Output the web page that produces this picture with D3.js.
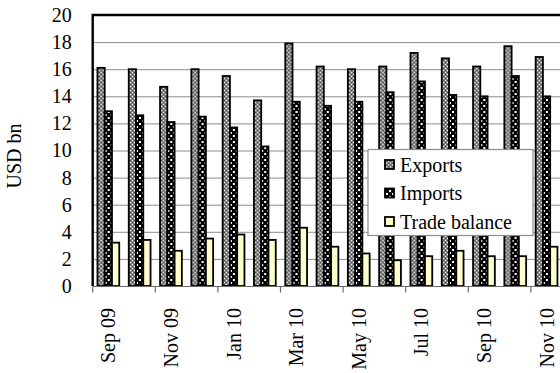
<!DOCTYPE html>
<html>
<head>
<meta charset="utf-8">
<script src="https://cdn.jsdelivr.net/npm/d3@7/dist/d3.min.js"></script>
<style>
  html, body { margin: 0; padding: 0; background: #fff; }
  svg { display: block; }
  text { font-family: "Liberation Serif", "Times New Roman", serif; fill: #000; }
</style>
</head>
<body>
<script>
const categories = ["Sep 09","Oct 09","Nov 09","Dec 09","Jan 10","Feb 10","Mar 10","Apr 10","May 10","Jun 10","Jul 10","Aug 10","Sep 10","Oct 10","Nov 10"];
const exportsData = [16.1,16.0,14.7,16.0,15.5,13.7,17.9,16.2,16.0,16.2,17.2,16.8,16.2,17.7,16.9];
const importsData = [12.9,12.6,12.1,12.5,11.7,10.3,13.6,13.3,13.6,14.3,15.1,14.1,14.0,15.5,14.0];
const tradeBalanceData = [3.2,3.4,2.6,3.5,3.8,3.4,4.3,2.9,2.4,1.9,2.2,2.6,2.2,2.2,2.9];
const seriesNames = ["Exports","Imports","Trade balance"];
const yTicks = [0,2,4,6,8,10,12,14,16,18,20];
const xTickLabels = ["Sep 09","Nov 09","Jan 10","Mar 10","May 10","Jul 10","Sep 10","Nov 10"];
const yTitle = "USD bn";

const W = 560, H = 373;
const pLeft = 92.7, pRight = 562.2, pTop = 15, pBottom = 286;

const svg = d3.select("body").append("svg").attr("width", W).attr("height", H);
const defs = svg.append("defs");

// patterns
const pExp = defs.append("pattern").attr("id","pExp").attr("patternUnits","userSpaceOnUse").attr("width",4).attr("height",4);
pExp.append("rect").attr("width",4).attr("height",4).attr("fill","#858585");
pExp.append("rect").attr("x",0).attr("y",0).attr("width",1).attr("height",1).attr("fill","#fff");
pExp.append("rect").attr("x",2).attr("y",2).attr("width",1).attr("height",1).attr("fill","#fff");
pExp.append("rect").attr("x",2).attr("y",0).attr("width",1).attr("height",1).attr("fill","#444");
pExp.append("rect").attr("x",0).attr("y",2).attr("width",1).attr("height",1).attr("fill","#444");

const pImp = defs.append("pattern").attr("id","pImp").attr("patternUnits","userSpaceOnUse").attr("width",6).attr("height",6);
pImp.append("rect").attr("width",6).attr("height",6).attr("fill","#000");
pImp.append("rect").attr("x",0).attr("y",0).attr("width",2).attr("height",2).attr("fill","#fff");
pImp.append("rect").attr("x",3).attr("y",3).attr("width",2).attr("height",2).attr("fill","#fff");

const fills = ["url(#pExp)","url(#pImp)","#ffffcc"];
const seriesData = [exportsData, importsData, tradeBalanceData];

const y = d3.scaleLinear().domain([0,20]).range([pBottom, pTop]);
const x0 = d3.scaleBand().domain(categories).range([pLeft, pRight]).padding(0);
const bw = x0.bandwidth();
const x1 = d3.scaleBand().domain(seriesNames).range([bw*0.152, bw*0.848]).padding(0);

// gridlines
svg.append("g")
  .attr("transform", `translate(${pLeft},0)`)
  .call(d3.axisLeft(y).tickValues(yTicks.filter(d => d > 0 && d < 20)).tickSize(-(pRight-pLeft)).tickFormat(""))
  .call(g => g.select(".domain").remove())
  .call(g => g.selectAll("line").attr("stroke","#8c8c8c").attr("stroke-width",1));

// y tick labels
svg.append("g")
  .attr("transform", `translate(${pLeft},0)`)
  .call(d3.axisLeft(y).tickValues(yTicks).tickSize(0).tickPadding(21))
  .call(g => g.select(".domain").remove())
  .call(g => g.selectAll("text").style("font-size","20px").style("font-family","'Liberation Serif','Times New Roman',serif").attr("fill","#000"));

// bars
const groups = svg.append("g").selectAll("g")
  .data(categories)
  .join("g")
  .attr("transform", d => `translate(${x0(d)},0)`);

groups.selectAll("rect")
  .data((c, i) => seriesNames.map((s, k) => ({s, k, v: seriesData[k][i]})))
  .join("rect")
  .attr("x", d => x1(d.s))
  .attr("y", d => y(d.v))
  .attr("width", x1.bandwidth())
  .attr("height", d => y(0) - y(d.v))
  .attr("fill", d => fills[d.k])
  .attr("stroke", "#000")
  .attr("stroke-width", 1.8);

// bottom axis line
svg.append("line").attr("x1", pLeft).attr("x2", pRight).attr("y1", pBottom+0.5).attr("y2", pBottom+0.5)
  .attr("stroke","#6a6a6a").attr("stroke-width",1.2);

// x tick marks at every other category boundary
const tickCats = categories.filter((c, i) => i % 2 === 0);
svg.append("g").selectAll("line")
  .data(tickCats)
  .join("line")
  .attr("x1", d => x0(d)).attr("x2", d => x0(d))
  .attr("y1", pBottom+1).attr("y2", pBottom+6.5)
  .attr("stroke","#6a6a6a").attr("stroke-width",1.2);

// x labels via axis
svg.append("g")
  .attr("transform", `translate(0,${pBottom})`)
  .call(d3.axisBottom(x0).tickValues(xTickLabels).tickSize(0))
  .call(g => g.select(".domain").remove())
  .call(g => g.selectAll("text")
    .style("font-size","20px")
    .style("font-family","'Liberation Serif','Times New Roman',serif")
    .attr("fill","#000")
    .attr("text-anchor","end")
    .attr("dy","0.35em")
    .attr("x", 0)
    .attr("y", 0)
    .attr("transform","translate(0,22) rotate(-90)"));

// plot border: left, top, right black
svg.append("path")
  .attr("d", `M${pLeft},${pBottom} L${pLeft},${pTop} L${pRight},${pTop} L${pRight},${pBottom}`)
  .attr("fill","none").attr("stroke","#000").attr("stroke-width",2.4);

// y title
svg.append("text")
  .attr("transform","translate(14,156) rotate(-90)")
  .attr("text-anchor","middle")
  .attr("dy","0.35em")
  .style("font-size","20px")
  .text(yTitle);

// legend
const lg = svg.append("g").attr("transform","translate(368,149.5)");
lg.append("rect").attr("width",165).attr("height",86).attr("fill","#fff").attr("stroke","#8c8c8c").attr("stroke-width",1.2);
const items = lg.selectAll("g.item").data(seriesNames).join("g").attr("class","item")
  .attr("transform", (d, i) => `translate(0,${15 + i*28.5})`);
items.append("rect").attr("x",17).attr("y",-4.5).attr("width",9).attr("height",9)
  .attr("fill", (d, i) => fills[i]).attr("stroke","#000").attr("stroke-width",1.8);
items.append("text").attr("x",32).attr("y",0).attr("dy","0.35em")
  .style("font-size","20px").text(d => d);
</script>
</body>
</html>
